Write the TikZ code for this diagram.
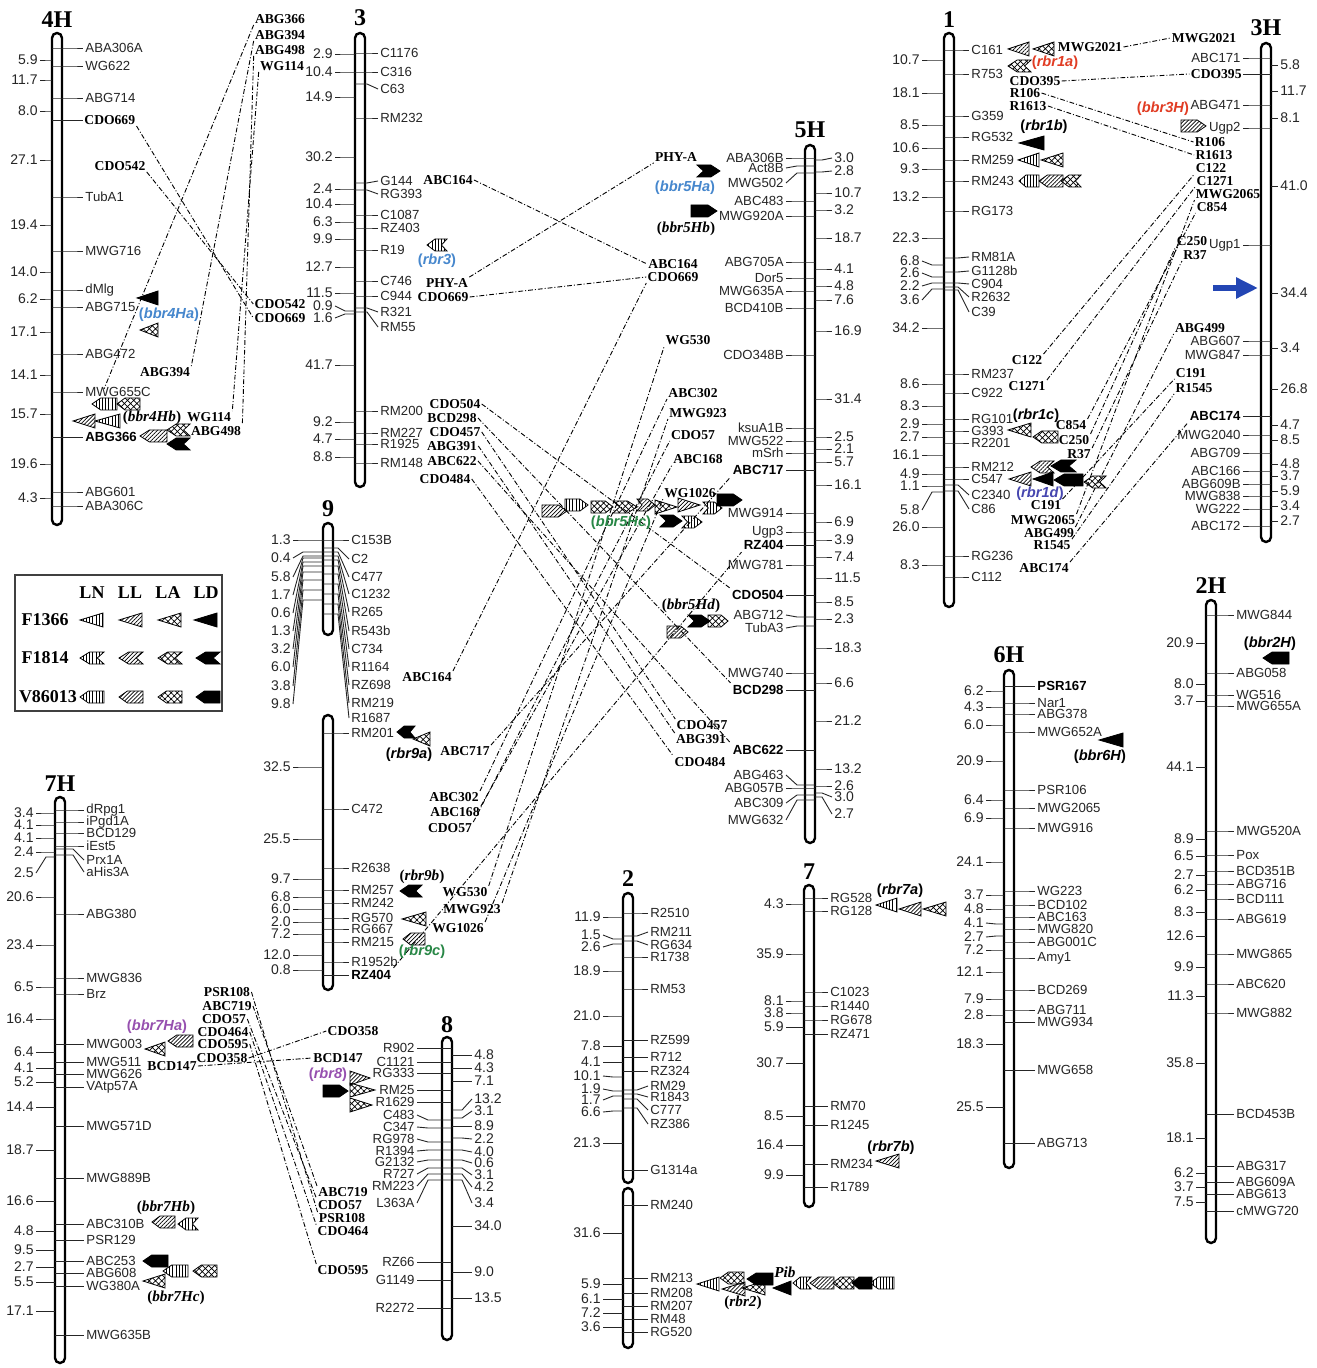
\documentclass[tikz,border=0pt]{standalone}
\usepackage{fontspec}
\setmainfont{Liberation Serif}
\setsansfont{Liberation Sans}
\usepackage{tikz}
\usetikzlibrary{arrows.meta,patterns.meta}
\definecolor{lblue}{RGB}{70,135,205}
\definecolor{dblue}{RGB}{70,70,175}
\definecolor{lred}{RGB}{225,60,35}
\definecolor{lgreen}{RGB}{40,135,70}
\definecolor{lpurple}{RGB}{150,80,175}
\definecolor{arblue}{RGB}{35,70,180}
\newcommand\fmk{\sffamily\fontsize{6.6}{7}\selectfont}
\newcommand\fds{\sffamily\fontsize{7}{7}\selectfont}
\newcommand\fbs{\sffamily\bfseries\fontsize{6.6}{7}\selectfont}
\newcommand\flb{\rmfamily\bfseries\fontsize{6.8}{7}\selectfont}
\newcommand\fttl{\rmfamily\bfseries\fontsize{12}{12}\selectfont}
\newcommand\fgn{\sffamily\bfseries\fontsize{7.3}{8}\selectfont}
\newcommand\fgs{\rmfamily\bfseries\fontsize{7.6}{8}\selectfont}
\newcommand\flg{\rmfamily\bfseries\fontsize{9}{9}\selectfont}
% icons: fill, tip x, signed width, y
\newcommand\itri[4]{\pgfmathsetmacro\ixb{#2+#3}%
  \path[#1] (#2,#4) -- (\ixb,#4-7) -- (\ixb,#4+7) -- cycle;}
\newcommand\ipen[4]{\pgfmathsetmacro\ixa{#2+0.35*#3}\pgfmathsetmacro\ixb{#2+#3}%
  \path[#1] (#2,#4) -- (\ixa,#4-6) -- (\ixb,#4-6) -- (\ixb,#4+6) -- (\ixa,#4+6) -- cycle;}
\newcommand\ichv[4]{\pgfmathsetmacro\ixa{#2+0.4*#3}\pgfmathsetmacro\ixb{#2+#3}\pgfmathsetmacro\ixm{#2+0.72*#3}%
  \path[#1] (#2,#4) -- (\ixa,#4-6) -- (\ixb,#4-6) -- (\ixm,#4) -- (\ixb,#4+6) -- (\ixa,#4+6) -- cycle;}
\begin{document}
\begin{tikzpicture}[x=0.5pt,y=-0.5pt,
  bar/.style={draw, fill=white, line width=1.2pt, rounded corners=2.5pt},
  tk/.style={line width=.45pt, draw=black!85},
  mk/.style={font=\fmk, inner sep=1pt, text=black!85},
  ds/.style={font=\fds, inner sep=1pt, text=black!85},
  bmk/.style={font=\fbs, inner sep=1pt},
  lb/.style={font=\flb, inner sep=.5pt},
  ttl/.style={font=\fttl, inner sep=0pt},
  gn/.style={font=\fgn, inner sep=.5pt},
  gs/.style={font=\fgs, inner sep=.5pt},
  lg/.style={font=\flg, inner sep=0pt},
  cn/.style={line width=.45pt, dash pattern=on 2.4pt off 1pt on .5pt off 1pt},
  fLN/.style={draw, line width=.4pt, pattern={Lines[angle=90,distance=1.6pt,line width=.4pt]}},
  fLL/.style={draw, line width=.4pt, pattern={Lines[angle=45,distance=1.4pt,line width=.35pt]}},
  fLA/.style={draw, line width=.4pt, pattern={Hatch[angle=45,distance=2.2pt,line width=.35pt]}},
  fLD/.style={draw, line width=.4pt, fill=black}]
\path[use as bounding box, fill=white] (0,0) rectangle (1316,1368);

% 4H
\def\xc{57}\def\lof{30}\def\dof{20}
\node[ttl] (t4H) at (\xc,20) {4H};
\draw[bar] (\xc-5,33) rectangle (\xc+5,525);
\foreach \yt/\yl/\t in {48/48/ABA306A,66/66/WG622,98/98/ABG714,197/197/TubA1,251/251/MWG716,290/290/dMlg,307/307/ABG715,354/354/ABG472,392/392/MWG655C,492/492/ABG601,506/506/ABA306C}
  \draw[tk] (\xc-5,\yt) -- (\xc+\lof-15,\yt) -- (\xc+\lof-4,\yl) node[mk,anchor=west] (c4H-\t) {\t};
\draw[tk] (\xc-5,120) -- (\xc+\lof-4,120) node[lb,anchor=west] (c4H-CDO669) {CDO669};
\draw[tk] (\xc-5,437) -- (\xc+\lof-4,437) node[bmk,anchor=west] (c4H-ABG366) {ABG366};
\foreach \yt/\yl/\t [count=\i] in {60/60/5.9,80/80/11.7,111/111/8.0,160/160/27.1,225/225/19.4,272/272/14.0,299/299/6.2,332/332/17.1,375/375/14.1,414/414/15.7,464/464/19.6,498/498/4.3}
  \draw[tk] (\xc-5,\yt) -- (\xc-\dof+13,\yt) -- (\xc-\dof+3,\yl) node[ds,anchor=east] (c4Hd\i) {\t};

% 3
\def\xc{360}\def\lof{22}\def\dof{28}
\node[ttl] (t3) at (\xc,18) {3};
\draw[bar] (\xc-5,33) rectangle (\xc+5,487);
\foreach \yt/\yl/\t in {53/53/C1176,72/72/C316,84/89/C63,118/118/RM232,183/181/G144,190/194/RG393,215/215/C1087,228/228/RZ403,250/250/R19,281/281/C746,296/296/C944,308/312/R321,312/327/RM55,411/411/RM200,433/433/RM227,444/444/R1925,463/463/RM148}
  \draw[tk] (\xc-5,\yt) -- (\xc+\lof-15,\yt) -- (\xc+\lof-4,\yl) node[mk,anchor=west] (c3-\t) {\t};
\foreach \yt/\yl/\t [count=\i] in {54/54/2.9,72/72/10.4,97/97/14.9,157/157/30.2,189/189/2.4,204/204/10.4,222/222/6.3,239/239/9.9,267/267/12.7,293/293/11.5,311/306/0.9,314/318/1.6,365/365/41.7,422/422/9.2,439/439/4.7,457/457/8.8}
  \draw[tk] (\xc-5,\yt) -- (\xc-\dof+13,\yt) -- (\xc-\dof+3,\yl) node[ds,anchor=east] (c3d\i) {\t};

% 5H
\def\xc{810}\def\lof{28}\def\dof{25}
\node[ttl] (t5H) at (\xc,130) {5H};
\draw[bar] (\xc-5,145) rectangle (\xc+5,843);
\foreach \yt/\yl/\t in {158/158/ABA306B,166/168/Act8B,173/183/MWG502,201/201/ABC483,216/216/MWG920A,262/262/ABG705A,278/278/Dor5,291/291/MWG635A,308/308/BCD410B,355/355/CDO348B,428/428/ksuA1B,441/441/MWG522,453/453/mSrh,513/513/MWG914,532/532/Ugp3,565/565/MWG781,617/615/ABG712,626/628/TubA3,673/673/MWG740,785/775/ABG463,788/788/ABG057B,795/803/ABC309,800/820/MWG632}
  \draw[tk] (\xc+5,\yt) -- (\xc-\lof+15,\yt) -- (\xc-\lof+4,\yl) node[mk,anchor=east] (c5H-\t) {\t};
\foreach \y/\t in {470/ABC717,545/RZ404,595/CDO504,690/BCD298,750/ABC622}
  \draw[tk] (\xc+5,\y) -- (\xc-\lof+4,\y) node[bmk,anchor=east] (c5H-\t) {\t};
\foreach \yt/\yl/\t [count=\i] in {160/158/3.0,172/171/2.8,193/193/10.7,210/210/3.2,238/238/18.7,269/269/4.1,286/286/4.8,300/300/7.6,331/331/16.9,399/399/31.4,437/437/2.5,449/449/2.1,462/462/5.7,485/485/16.1,522/522/6.9,540/540/3.9,557/557/7.4,578/578/11.5,602/602/8.5,619/619/2.3,648/648/18.3,683/683/6.6,721/721/21.2,769/769/13.2,786/786/2.6,793/797/3.0,797/814/2.7}
  \draw[tk] (\xc+5,\yt) -- (\xc+\dof-13,\yt) -- (\xc+\dof-3,\yl) node[ds,anchor=west] (c5Hd\i) {\t};

% 1
\def\xc{949}\def\lof{24}\def\dof{30}
\node[ttl] (t1) at (\xc,20) {1};
\draw[bar] (\xc-5,33) rectangle (\xc+5,607);
\foreach \yt/\yl/\t in {50/50/C161,74/74/R753,116/116/G359,137/137/RG532,160/160/RM259,181/181/RM243,211/211/RG173,258/257/RM81A,272/271/G1128b,283/284/C904,287/297/R2632,290/312/C39,374/374/RM237,393/393/C922,419/419/RG101,431/431/G393,443/443/R2201,467/467/RM212,479/479/C547,485/495/C2340,491/509/C86,556/556/RG236,577/577/C112}
  \draw[tk] (\xc-5,\yt) -- (\xc+\lof-15,\yt) -- (\xc+\lof-4,\yl) node[mk,anchor=west] (c1-\t) {\t};
\foreach \yt/\yl/\t [count=\i] in {60/60/10.7,93/93/18.1,125/125/8.5,148/148/10.6,169/169/9.3,197/197/13.2,238/238/22.3,265/261/6.8,277/273/2.6,283/286/2.2,289/300/3.6,328/328/34.2,384/384/8.6,406/406/8.3,424/424/2.9,437/437/2.7,455/455/16.1,474/474/4.9,486/486/1.1,492/510/5.8,527/527/26.0,565/565/8.3}
  \draw[tk] (\xc-5,\yt) -- (\xc-\dof+13,\yt) -- (\xc-\dof+3,\yl) node[ds,anchor=east] (c1d\i) {\t};

% 3H
\def\xc{1266}\def\lof{27}\def\dof{15}
\node[ttl] (t3H) at (\xc,28) {3H};
\draw[bar] (\xc-5,43) rectangle (\xc+5,542);
\foreach \yt/\yl/\t in {58/58/ABC171,105/105/ABG471,128/128/Ugp2,245/245/Ugp1,341/341/ABG607,355/355/MWG847,435/435/MWG2040,453/453/ABG709,471/471/ABC166,484/484/ABG609B,496/496/MWG838,509/509/WG222,526/526/ABC172}
  \draw[tk] (\xc+5,\yt) -- (\xc-\lof+15,\yt) -- (\xc-\lof+4,\yl) node[mk,anchor=east] (c3H-\t) {\t};
\draw[tk] (\xc+5,74) -- (\xc-\lof+4,74) node[lb,anchor=east] (c3H-CDO395) {CDO395};
\draw[tk] (\xc+5,416) -- (\xc-\lof+4,416) node[bmk,anchor=east] (c3H-ABC174) {ABC174};
\foreach \yt/\yl/\t [count=\i] in {65/65/5.8,91/91/11.7,118/118/8.1,186/186/41.0,293/293/34.4,348/348/3.4,389/389/26.8,425/425/4.7,440/440/8.5,464/464/4.8,476/476/3.7,491/491/5.9,506/506/3.4,521/521/2.7}
  \draw[tk] (\xc+5,\yt) -- (\xc+\dof-3,\yl) node[ds,anchor=west] (c3Hd\i) {\t};

% 9
\def\xc{328}\def\lof{25}\def\dof{38}
\node[ttl] (t9) at (\xc,509) {9};
\draw[bar] (\xc-5,523) rectangle (\xc+5,635);
\draw[bar] (\xc-5,715) rectangle (\xc+5,990);
\foreach \yt/\yl/\t in {540/540/C153B,548/559/C2,552/577/C477,556/594/C1232,560/612/R265,566/631/R543b,574/649/C734,584/667/R1164,594/685/RZ698,604/703/RM219,614/718/R1687,733/733/RM201,809/809/C472,868/868/R2638,890/890/RM257,903/903/RM242,918/918/RG570,929/929/RG667,942/942/RM215,962/962/R1952b}
  \draw[tk] (\xc-5,\yt) -- (\xc+\lof-15,\yt) -- (\xc+\lof-4,\yl) node[mk,anchor=west] (c9-\t) {\t};
\draw[tk] (\xc-5,975) -- (\xc+\lof-4,975) node[bmk,anchor=west] (c9-RZ404) {RZ404};
\foreach \yt/\yl/\t [count=\i] in {540/540/1.3,552/558/0.4,556/577/5.8,558/595/1.7,562/613/0.6,566/631/1.3,572/649/3.2,580/667/6.0,590/686/3.8,600/704/9.8,767/767/32.5,839/839/25.5,879/879/9.7,897/897/6.8,909/909/6.0,922/922/2.0,934/934/7.2,955/955/12.0,970/970/0.8}
  \draw[tk] (\xc-5,\yt) -- (\xc-\dof+13,\yt) -- (\xc-\dof+3,\yl) node[ds,anchor=east] (c9d\i) {\t};

% 7H
\def\xc{60}\def\lof{28}\def\dof{27}
\node[ttl] (t7H) at (\xc,784) {7H};
\draw[bar] (\xc-5,797) rectangle (\xc+5,1363);
\foreach \yt/\yl/\t in {810/810/dRpg1,822/822/iPgd1A,833/833/BCD129,846/846/iEst5,849/860/Prx1A,855/872/aHis3A,914/914/ABG380,978/978/MWG836,994/994/Brz,1044/1044/MWG003,1062/1062/MWG511,1074/1074/MWG626,1087/1087/VAtp57A,1126/1126/MWG571D,1178/1178/MWG889B,1224/1224/ABC310B,1240/1240/PSR129,1261/1261/ABC253,1273/1273/ABG608,1286/1286/WG380A,1335/1335/MWG635B}
  \draw[tk] (\xc-5,\yt) -- (\xc+\lof-15,\yt) -- (\xc+\lof-4,\yl) node[mk,anchor=west] (c7H-\t) {\t};
\foreach \yt/\yl/\t [count=\i] in {813/813/3.4,825/825/4.1,838/838/4.1,852/852/2.4,857/873/2.5,897/897/20.6,945/945/23.4,987/987/6.5,1019/1019/16.4,1052/1052/6.4,1068/1068/4.1,1082/1082/5.2,1107/1107/14.4,1150/1150/18.7,1201/1201/16.6,1231/1231/4.8,1250/1250/9.5,1267/1267/2.7,1282/1282/5.5,1311/1311/17.1}
  \draw[tk] (\xc-5,\yt) -- (\xc-\dof+13,\yt) -- (\xc-\dof+3,\yl) node[ds,anchor=east] (c7Hd\i) {\t};

% 8
\def\xc{447}\def\lof{34}\def\dof{28}
\node[ttl] (t8) at (\xc,1025) {8};
\draw[bar] (\xc-5,1037) rectangle (\xc+5,1340);
\foreach \yt/\yl/\t in {1048/1048/R902,1062/1062/C1121,1073/1073/RG333,1090/1090/RM25,1102/1102/R1629,1120/1115/C483,1128/1127/C347,1142/1139/RG978,1150/1151/R1394,1160/1162/G2132,1168/1174/R727,1174/1186/RM223,1180/1203/L363A,1262/1262/RZ66,1280/1280/G1149,1308/1308/R2272}
  \draw[tk] (\xc+5,\yt) -- (\xc-\lof+15,\yt) -- (\xc-\lof+4,\yl) node[mk,anchor=east] (c8-\t) {\t};
\foreach \yt/\yl/\t [count=\i] in {1055/1055/4.8,1068/1068/4.3,1081/1081/7.1,1110/1099/13.2,1118/1111/3.1,1126/1126/8.9,1138/1139/2.2,1150/1152/4.0,1160/1163/0.6,1168/1175/3.1,1174/1187/4.2,1180/1203/3.4,1226/1226/34.0,1272/1272/9.0,1298/1298/13.5}
  \draw[tk] (\xc+5,\yt) -- (\xc+\dof-13,\yt) -- (\xc+\dof-3,\yl) node[ds,anchor=west] (c8d\i) {\t};

% 2
\def\xc{628}\def\lof{24}\def\dof{28}
\node[ttl] (t2) at (\xc,879) {2};
\draw[bar] (\xc-5,893) rectangle (\xc+5,1183);
\draw[bar] (\xc-5,1188) rectangle (\xc+5,1348);
\foreach \yt/\yl/\t in {913/913/R2510,936/932/RM211,941/945/RG634,957/957/R1738,989/989/RM53,1040/1040/RZ599,1057/1057/R712,1071/1071/RZ324,1090/1086/RM29,1094/1097/R1843,1099/1110/C777,1108/1124/RZ386,1170/1170/G1314a,1205/1205/RM240,1278/1278/RM213,1293/1293/RM208,1306/1306/RM207,1319/1319/RM48,1332/1332/RG520}
  \draw[tk] (\xc-5,\yt) -- (\xc+\lof-15,\yt) -- (\xc+\lof-4,\yl) node[mk,anchor=west] (c2-\t) {\t};
\foreach \yt/\yl/\t [count=\i] in {917/917/11.9,939/935/1.5,944/947/2.6,971/971/18.9,1016/1016/21.0,1046/1046/7.8,1062/1062/4.1,1077/1076/10.1,1091/1089/1.9,1096/1100/1.7,1111/1112/6.6,1143/1143/21.3,1233/1233/31.6,1284/1284/5.9,1299/1299/6.1,1313/1313/7.2,1327/1327/3.6}
  \draw[tk] (\xc-5,\yt) -- (\xc-\dof+13,\yt) -- (\xc-\dof+3,\yl) node[ds,anchor=east] (c2d\i) {\t};

% 7
\def\xc{809}\def\lof{23}\def\dof{26}
\node[ttl] (t7) at (\xc,872) {7};
\draw[bar] (\xc-5,885) rectangle (\xc+5,1207);
\foreach \yt/\yl/\t in {898/898/RG528,911/911/RG128,992/992/C1023,1006/1006/R1440,1020/1020/RG678,1034/1034/RZ471,1106/1106/RM70,1125/1125/R1245,1164/1164/RM234,1187/1187/R1789}
  \draw[tk] (\xc-5,\yt) -- (\xc+\lof-15,\yt) -- (\xc+\lof-4,\yl) node[mk,anchor=west] (c7-\t) {\t};
\foreach \yt/\yl/\t [count=\i] in {904/904/4.3,954/954/35.9,1001/1001/8.1,1013/1013/3.8,1027/1027/5.9,1063/1063/30.7,1116/1116/8.5,1145/1145/16.4,1175/1175/9.9}
  \draw[tk] (\xc-5,\yt) -- (\xc-\dof+13,\yt) -- (\xc-\dof+3,\yl) node[ds,anchor=east] (c7d\i) {\t};

% 6H
\def\xc{1009}\def\lof{30}\def\dof{26}
\node[ttl] (t6H) at (\xc,655) {6H};
\draw[bar] (\xc-5,670) rectangle (\xc+5,1168);
\foreach \yt/\yl/\t in {703/703/Nar1,714/714/ABG378,732/732/MWG652A,790/790/PSR106,808/808/MWG2065,828/828/MWG916,891/891/WG223,905/905/BCD102,917/917/ABC163,929/929/MWG820,942/942/ABG001C,958/958/Amy1,990/990/BCD269,1010/1010/ABG711,1022/1022/MWG934,1070/1070/MWG658,1143/1143/ABG713}
  \draw[tk] (\xc-5,\yt) -- (\xc+\lof-15,\yt) -- (\xc+\lof-4,\yl) node[mk,anchor=west] (c6H-\t) {\t};
\draw[tk] (\xc-5,686) -- (\xc+\lof-4,686) node[bmk,anchor=west] (c6H-PSR167) {PSR167};
\foreach \yt/\yl/\t [count=\i] in {691/691/6.2,707/707/4.3,725/725/6.0,761/761/20.9,800/800/6.4,818/818/6.9,862/862/24.1,895/895/3.7,909/909/4.8,924/923/4.1,936/937/2.7,950/950/7.2,972/972/12.1,999/999/7.9,1015/1015/2.8,1044/1044/18.3,1107/1107/25.5}
  \draw[tk] (\xc-5,\yt) -- (\xc-\dof+13,\yt) -- (\xc-\dof+3,\yl) node[ds,anchor=east] (c6Hd\i) {\t};

% 2H
\def\xc{1211}\def\lof{27}\def\dof{18}
\node[ttl] (t2H) at (\xc,586) {2H};
\draw[bar] (\xc-5,600) rectangle (\xc+5,1243);
\foreach \yt/\yl/\t in {615/615/MWG844,673/673/ABG058,695/695/WG516,706/706/MWG655A,831/831/MWG520A,855/855/Pox,871/871/BCD351B,884/884/ABG716,899/899/BCD111,919/919/ABG619,954/954/MWG865,984/984/ABC620,1013/1013/MWG882,1114/1114/BCD453B,1166/1166/ABG317,1182/1182/ABG609A,1194/1194/ABG613,1211/1211/cMWG720}
  \draw[tk] (\xc-5,\yt) -- (\xc+\lof-15,\yt) -- (\xc+\lof-4,\yl) node[mk,anchor=west] (c2H-\t) {\t};
\foreach \yt/\yl/\t [count=\i] in {643/643/20.9,684/684/8.0,701/701/3.7,767/767/44.1,839/839/8.9,856/856/6.5,875/875/2.7,890/890/6.2,912/912/8.3,936/936/12.6,967/967/9.9,996/996/11.3,1063/1063/35.8,1138/1138/18.1,1173/1173/6.2,1187/1187/3.7,1202/1202/7.5}
  \draw[tk] (\xc-5,\yt) -- (\xc-\dof+3,\yl) node[ds,anchor=east] (c2Hd\i) {\t};

% syntenic marker labels
\foreach \n/\x/\y/\t in {b4-CDO542/120/166/CDO542,t-ABG366/280/19/ABG366,t-ABG394/280/35/ABG394,t-ABG498/280/50/ABG498,t-WG114/282/66/WG114,b4-ABG394/165/372/ABG394,b4-WG114/209/417/WG114,b4-ABG498/216/431/ABG498,l3-CDO542/280/304/CDO542,l3-CDO669/280/318/CDO669,r3-ABC164/448/180/ABC164,r3-PHYA/447/283/PHY-A,r3-CDO669/443/297/CDO669,r3-CDO504/455/404/CDO504,r3-BCD298/452/418/BCD298,r3-CDO457/455/432/CDO457,r3-ABG391/452/446/ABG391,r3-ABC622/452/461/ABC622,r3-CDO484/445/479/CDO484}
  \node[lb] (\n) at (\x,\y) {\t};
\foreach \n/\x/\y/\t in {l5-PHYA/676/157/PHY-A,l5-ABC164/673/264/ABC164,l5-CDO669/673/277/CDO669,l5-WG530/688/340/WG530,l5-ABC302/693/393/ABC302,l5-MWG923/698/413/MWG923,l5-CDO57/693/435/CDO57,l5-ABC168/698/459/ABC168,l5-WG1026/690/493/WG1026,l5-CDO457/702/725/CDO457,l5-ABG391/701/739/ABG391,l5-CDO484/700/762/CDO484}
  \node[lb] (\n) at (\x,\y) {\t};
\foreach \n/\x/\y/\t in {r9-ABC164/427/677/ABC164,r9-ABC717/465/751/ABC717,r9-ABC302/454/797/ABC302,r9-ABC168/455/812/ABC168,r9-CDO57/450/828/CDO57,r9-WG530/465/892/WG530,r9-MWG923/472/909/MWG923,r9-WG1026/458/928/WG1026}
  \node[lb] (\n) at (\x,\y) {\t};
\foreach \n/\x/\y/\t in {r7-PSR108/227/992/PSR108,r7-ABC719/227/1006/ABC719,r7-CDO57/224/1019/CDO57,r7-CDO464/223/1032/CDO464,r7-CDO595/223/1044/CDO595,r7-CDO358/222/1058/CDO358,r7-BCD147/172/1066/BCD147,l8-CDO358/353/1031/CDO358,l8-BCD147/338/1058/BCD147,l8-ABC719/343/1192/ABC719,l8-CDO57/340/1205/CDO57,l8-PSR108/342/1218/PSR108,l8-CDO464/343/1231/CDO464,l8-CDO595/343/1270/CDO595}
  \node[lb] (\n) at (\x,\y) {\t};
\foreach \n/\x/\y/\t in {r1-MWG2021/1090/47/MWG2021,r1-CDO395/1035/81/CDO395,r1-R106/1025/93/R106,r1-R1613/1028/106/R1613,r1-C122/1027/360/C122,r1-C1271/1027/386/C1271,r1-C854/1071/425/C854,r1-C250/1074/440/C250,r1-R37/1079/454/R37,r1-C191/1046/505/C191,r1-MWG2065/1043/520/MWG2065,r1-ABG499/1049/533/ABG499,r1-R1545/1052/545/R1545,r1-ABC174/1044/568/ABC174}
  \node[lb] (\n) at (\x,\y) {\t};
\foreach \n/\x/\y/\t in {l3H-MWG2021/1204/38/MWG2021,l3H-R106/1210/142/R106,l3H-R1613/1214/155/R1613,l3H-C122/1211/168/C122,l3H-C1271/1215/181/C1271,l3H-MWG2065/1228/194/MWG2065,l3H-C854/1212/207/C854,l3H-C250/1192/241/C250,l3H-R37/1195/255/R37,l3H-ABG499/1200/328/ABG499,l3H-C191/1191/373/C191,l3H-R1545/1194/388/R1545}
  \node[lb] (\n) at (\x,\y) {\t};

% connectors
\coordinate (e366) at (104,389);
\foreach \a/\b in {c4H-CDO669.south east/l3-CDO669.west,b4-CDO542.south east/l3-CDO542.west,t-ABG366.south west/e366,t-ABG394.south west/b4-ABG394.north east,t-WG114.south west/b4-WG114.north east,t-ABG498.south west/b4-ABG498.north east,
  r3-ABC164.east/l5-ABC164.west,r3-PHYA.north east/l5-PHYA.south west,r3-CDO669.east/l5-CDO669.west,r9-ABC164.north east/l5-CDO669.south west,
  r3-CDO504.east/c5H-CDO504.north west,r3-BCD298.east/c5H-BCD298.north west,r3-CDO457.east/l5-CDO457.north west,r3-ABG391.east/l5-ABG391.north west,r3-ABC622.east/c5H-ABC622.north west,r3-CDO484.east/l5-CDO484.north west,
  r9-ABC717.north east/c5H-ABC717.south west,r9-ABC302.north east/l5-ABC302.south west,r9-ABC168.north east/l5-ABC168.south west,r9-CDO57.north east/l5-CDO57.south west,r9-WG530.north east/l5-WG530.south west,r9-MWG923.north east/l5-MWG923.south west,r9-WG1026.north east/l5-WG1026.south west,c9-RZ404.north east/c5H-RZ404.south west,
  r7-PSR108.east/l8-PSR108.north west,r7-ABC719.east/l8-ABC719.north west,r7-CDO57.east/l8-CDO57.north west,r7-CDO464.east/l8-CDO464.north west,r7-CDO595.east/l8-CDO595.north west,r7-CDO358.east/l8-CDO358.west,r7-BCD147.east/l8-BCD147.west,
  r1-MWG2021.east/l3H-MWG2021.west,r1-CDO395.east/c3H-CDO395.west,r1-R106.east/l3H-R106.west,r1-R1613.east/l3H-R1613.west,r1-C122.north east/l3H-C122.south west,r1-C1271.north east/l3H-C1271.south west,r1-C854.north east/l3H-C854.south west,r1-C250.north east/l3H-C250.south west,r1-R37.north east/l3H-R37.south west,r1-C191.north east/l3H-C191.south west,r1-MWG2065.north east/l3H-MWG2065.south west,r1-ABG499.north east/l3H-ABG499.south west,r1-R1545.north east/l3H-R1545.south west,r1-ABC174.north east/c3H-ABC174.south west}
  \draw[cn] (\a) -- (\b);

% resistance icons
\itri{fLD}{137}{21}{298} \itri{fLA}{140}{18}{330}
\ipen{fLN}{92}{25}{404} \ipen{fLA}{117}{23}{404}
\itri{fLL}{73}{22}{421} \itri{fLN}{95}{25}{421}
\ipen{fLL}{140}{27}{436} \ichv{fLA}{167}{23}{430} \ichv{fLD}{167}{23}{444}
\ichv{fLN}{427}{20}{245}
\ichv{fLD}{720}{-23}{171} \ipen{fLD}{717}{-26}{211}
\ipen{fLL}{567}{-25}{511} \ipen{fLN}{588}{-23}{505} \ipen{fLA}{613}{-22}{507} \ichv{fLA}{637}{-24}{507}
\ichv{fLL}{655}{-18}{505} \itri{fLA}{677}{-22}{507} \itri{fLL}{700}{-22}{505} \ichv{fLN}{722}{-19}{508} \ipen{fLD}{742}{-25}{500}
\ichv{fLD}{682}{-22}{521} \ichv{fLN}{702}{-20}{522}
\ichv{fLD}{710}{-22}{621} \ipen{fLA}{728}{-20}{621} \ipen{fLL}{688}{-21}{632}
\itri{fLL}{1008}{21}{49} \itri{fLA}{1033}{21}{49}
\ichv{fLA}{1008}{23}{66}
\itri{fLD}{1019}{25}{143}
\itri{fLN}{1018}{21}{160} \itri{fLA}{1041}{22}{160}
\ipen{fLN}{1019}{20}{181} \ipen{fLL}{1039}{24}{181} \ichv{fLA}{1061}{20}{181}
\itri{fLA}{1008}{23}{430} \ipen{fLA}{1033}{25}{437}
\ichv{fLL}{1031}{23}{467} \ichv{fLD}{1051}{25}{466}
\itri{fLL}{1009}{22}{479} \itri{fLD}{1033}{20}{479} \ipen{fLD}{1054}{29}{480} \ichv{fLA}{1084}{22}{482}
\ipen{fLL}{1206}{-25}{126}
\ichv{fLD}{397}{18}{732} \itri{fLA}{413}{17}{739}
\ichv{fLD}{400}{22}{891}
\itri{fLA}{402}{24}{919}
\ipen{fLL}{403}{22}{939}
\itri{fLA}{145}{20}{1049} \ipen{fLL}{168}{25}{1041}
\ipen{fLL}{152}{23}{1222} \ichv{fLN}{178}{20}{1224}
\ipen{fLD}{143}{25}{1261}
\ipen{fLN}{163}{25}{1271} \ipen{fLA}{193}{24}{1271}
\itri{fLA}{143}{22}{1281}
\itri{fLL}{370}{-20}{1078}
\ipen{fLD}{348}{-25}{1091} \itri{fLA}{375}{-25}{1090}
\itri{fLA}{372}{-22}{1105}
\itri{fLN}{697}{22}{1284} \ipen{fLA}{720}{24}{1278} \itri{fLL}{722}{23}{1289} \itri{fLA}{742}{23}{1288}
\ipen{fLD}{747}{26}{1279} \itri{fLD}{773}{18}{1288}
\ichv{fLN}{793}{18}{1283} \ipen{fLL}{810}{24}{1283} \ipen{fLA}{833}{21}{1283} \ipen{fLD}{852}{20}{1283} \ipen{fLN}{870}{24}{1283}
\itri{fLN}{876}{21}{905} \itri{fLL}{899}{22}{909} \itri{fLA}{923}{23}{909}
\itri{fLL}{876}{23}{1161}
\itri{fLD}{1099}{24}{740}
\ipen{fLD}{1263}{26}{658}

% gene labels
\node[gn, text=lblue] (g4Ha) at (169,315) {(\textit{bbr4Ha})};
\node[gs] (g4Hb) at (152,418) {(\textit{bbr4Hb})};
\node[gn, text=lblue] (g3) at (437,261) {(\textit{rbr3})};
\node[gn, text=lblue] (g5Ha) at (685,188) {(\textit{bbr5Ha})};
\node[gs] (g5Hb) at (686,229) {(\textit{bbr5Hb})};
\node[gn, text=lgreen] (g5Hc) at (621,523) {(\textit{bbr5Hc})};
\node[gs] (g5Hd) at (691,606) {(\textit{bbr5Hd})};
\node[gn, text=lred] (g1a) at (1055,63) {(\textit{rbr1a})};
\node[gn] (g1b) at (1044,127) {(\textit{rbr1b})};
\node[gn] (g1c) at (1036,416) {(\textit{rbr1c})};
\node[gn, text=dblue] (g1d) at (1040,494) {(\textit{rbr1d})};
\node[gn, text=lred] (g3H) at (1163,109) {(\textit{bbr3H})};
\node[gn] (g9a) at (409,755) {(\textit{rbr9a})};
\node[gs] (g9b) at (422,877) {(\textit{rbr9b})};
\node[gn, text=lgreen] (g9c) at (422,952) {(\textit{rbr9c})};
\node[gn, text=lpurple] (g7Ha) at (157,1027) {(\textit{bbr7Ha})};
\node[gs] (g7Hb) at (166,1208) {(\textit{bbr7Hb})};
\node[gs] (g7Hc) at (176,1298) {(\textit{bbr7Hc})};
\node[gn, text=lpurple] (g8) at (328,1075) {(\textit{rbr8})};
\node[gn] (g7a) at (900,891) {(\textit{rbr7a})};
\node[gn] (g7b) at (891,1148) {(\textit{rbr7b})};
\node[gn] (g6H) at (1100,757) {(\textit{bbr6H})};
\node[gn] (g2H) at (1270,644) {(\textit{bbr2H})};
\node[gs] (gPib) at (785,1272) {\textit{Pib}};
\node[gs] (g2) at (743,1303) {(\textit{rbr2})};

% arrow at 3H
\coordinate (arS) at (1213,288);
\coordinate (arT) at (1258,288);
\draw[arblue, line width=3pt, -{Triangle[length=11pt,width=10pt]}] (arS) -- (arT);

% legend
\draw[line width=.7pt, black!75] (15,575) rectangle (222,711);
\node[lg] (hLN) at (92,593) {LN};
\node[lg] (hLL) at (130,593) {LL};
\node[lg] (hLA) at (168,593) {LA};
\node[lg] (hLD) at (206,593) {LD};
\node[lg] (gF1366) at (45,620) {F1366};
\node[lg] (gF1814) at (45,658) {F1814};
\node[lg] (gV86013) at (48,697) {V86013};
\itri{fLN}{80}{23}{620} \itri{fLL}{119}{23}{620} \itri{fLA}{158}{23}{620} \itri{fLD}{194}{23}{620}
\ichv{fLN}{80}{24}{658} \ichv{fLL}{119}{24}{658} \ichv{fLA}{158}{24}{658} \ichv{fLD}{196}{24}{658}
\ipen{fLN}{80}{24}{697} \ipen{fLL}{119}{24}{697} \ipen{fLA}{158}{24}{697} \ipen{fLD}{196}{24}{697}
\end{tikzpicture}
\end{document}
